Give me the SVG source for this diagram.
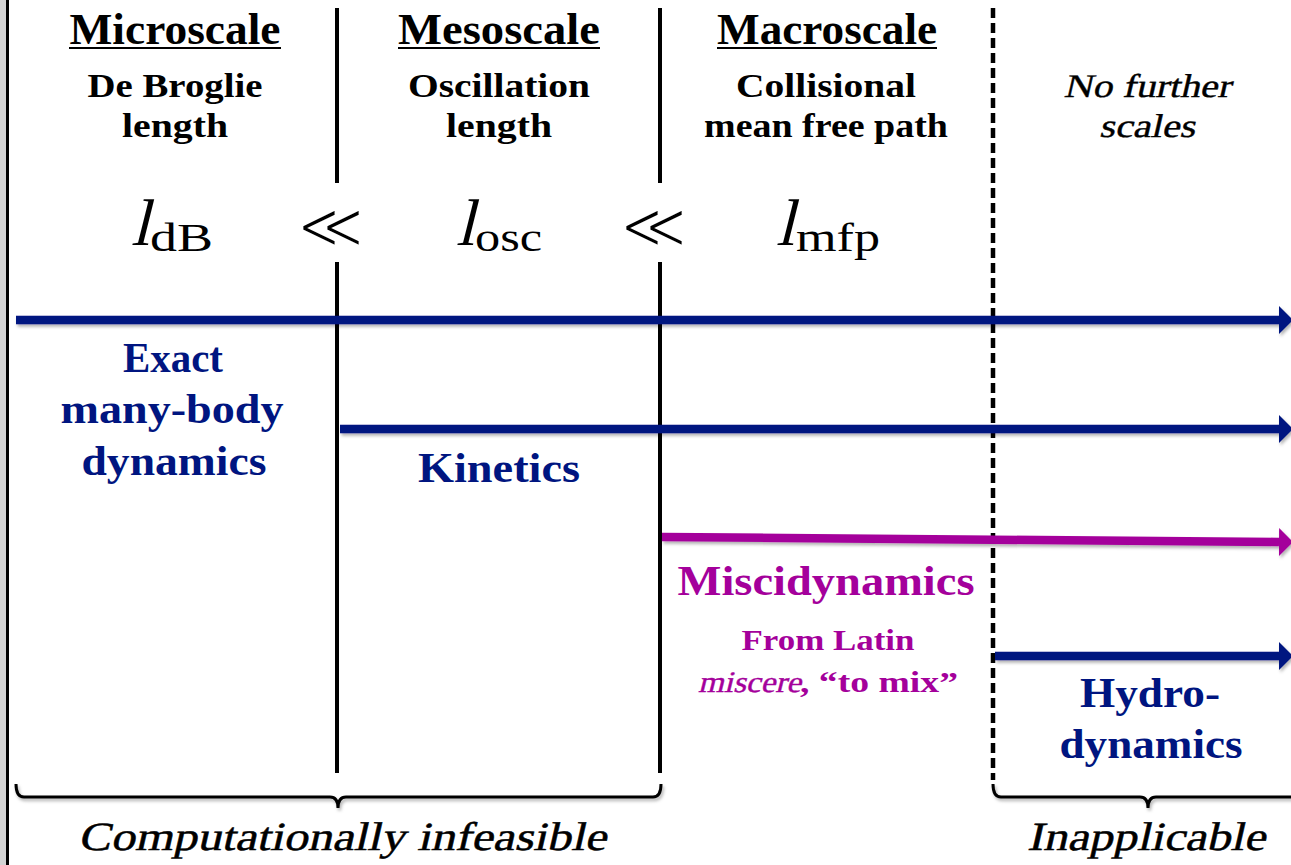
<svg xmlns="http://www.w3.org/2000/svg" width="1291" height="865" viewBox="0 0 1291 865">
<style>
.hdr{font-family:"Liberation Serif",serif;font-weight:bold;font-size:44px;fill:#000;text-anchor:middle}
.sub{font-family:"Liberation Serif",serif;font-weight:bold;font-size:33px;fill:#000;text-anchor:middle}
.ital{font-family:"Liberation Serif",serif;font-size:33px;fill:#000;text-anchor:middle;stroke:#000;stroke-width:0.4}
.lbl{font-family:"Liberation Serif",serif;font-weight:bold;font-size:42px;text-anchor:middle}
.blue{fill:#001580}
.purp{fill:#a4009b}
.small{font-size:29px}
.bot{font-family:"Liberation Serif",serif;font-size:40px;fill:#000;text-anchor:middle;stroke:#000;stroke-width:0.5}
.ml{font-family:"Liberation Serif",serif;font-size:66px;fill:#000}
.ms{font-family:"Liberation Serif",serif;font-size:40px;fill:#000}
.ll{font-family:"DejaVu Sans",sans-serif;font-size:64px;fill:#000;stroke:#fff;stroke-width:2.4;text-anchor:middle}
.vl{stroke:#000;stroke-width:4;fill:none}
.dl{stroke:#000;stroke-width:4.5;fill:none;stroke-dasharray:10,5}
.ul{stroke:#000;stroke-width:2.2}
.arr{stroke-width:8.5;fill:none}
.brace{stroke:#000;stroke-width:3;fill:none}
</style>
<defs>
<filter id="sh" filterUnits="userSpaceOnUse" x="0" y="0" width="1291" height="865">
<feDropShadow dx="1.5" dy="2.5" stdDeviation="1.5" flood-color="#000" flood-opacity="0.3"/>
</filter>
<marker id="hb" markerUnits="userSpaceOnUse" markerWidth="14" markerHeight="28" refX="0" refY="14" orient="auto" viewBox="0 0 14 28"><path d="M0,0 L14,14 L0,28 z" fill="#001580"/></marker>
<marker id="hp" markerUnits="userSpaceOnUse" markerWidth="14" markerHeight="28" refX="0" refY="14" orient="auto" viewBox="0 0 14 28"><path d="M0,0 L14,14 L0,28 z" fill="#a4009b"/></marker>
</defs>
<rect x="0" y="0" width="1291" height="865" fill="#fff"/>
<rect x="0" y="0" width="6" height="865" fill="#d3d3d3"/>
<line x1="7.5" y1="0" x2="7.5" y2="865" stroke="#000" stroke-width="3"/>

<g id="dividers">
<path class="vl" d="M337,8 V183 M337,262 V773"/>
<path class="vl" d="M660,8 V183 M660,262 V773"/>
<path class="dl" d="M993,8 V780"/>
</g>

<g id="microscale">
<text class="hdr" x="175" y="44" textLength="211" lengthAdjust="spacingAndGlyphs">Microscale</text>
<line class="ul" x1="69" y1="48" x2="281" y2="48"/>
<text class="sub" x="175" y="97" textLength="175" lengthAdjust="spacingAndGlyphs">De Broglie</text>
<text class="sub" x="175" y="137" textLength="106" lengthAdjust="spacingAndGlyphs">length</text>
<text class="ml" transform="translate(131,245) skewX(-14)">l</text>
<text class="ms" x="150" y="251" textLength="63" lengthAdjust="spacingAndGlyphs">dB</text>
</g>

<g id="mesoscale">
<text class="hdr" x="499" y="44" textLength="202" lengthAdjust="spacingAndGlyphs">Mesoscale</text>
<line class="ul" x1="398" y1="48" x2="600" y2="48"/>
<text class="sub" x="499" y="97" textLength="182" lengthAdjust="spacingAndGlyphs">Oscillation</text>
<text class="sub" x="499" y="137" textLength="106" lengthAdjust="spacingAndGlyphs">length</text>
<text class="ml" transform="translate(456,245) skewX(-14)">l</text>
<text class="ms" x="475" y="251" textLength="67" lengthAdjust="spacingAndGlyphs">osc</text>
</g>

<g id="macroscale">
<text class="hdr" x="827" y="44" textLength="220" lengthAdjust="spacingAndGlyphs">Macroscale</text>
<line class="ul" x1="717" y1="48" x2="937" y2="48"/>
<text class="sub" x="826" y="97" textLength="180" lengthAdjust="spacingAndGlyphs">Collisional</text>
<text class="sub" x="826" y="137" textLength="244" lengthAdjust="spacingAndGlyphs">mean free path</text>
<text class="ml" transform="translate(776,245) skewX(-14)">l</text>
<text class="ms" x="796" y="251" textLength="84" lengthAdjust="spacingAndGlyphs">mfp</text>
</g>

<g id="nofurther">
<text class="ital" transform="translate(1147,97) skewX(-13)" textLength="167" lengthAdjust="spacingAndGlyphs">No further</text>
<text class="ital" transform="translate(1147,137) skewX(-13)" textLength="96" lengthAdjust="spacingAndGlyphs">scales</text>
</g>

<g id="relations">
<text class="ll" x="331" y="248">≪</text>
<text class="ll" x="654" y="248">≪</text>
</g>

<g id="connectors" filter="url(#sh)">
<line class="arr" x1="16" y1="320" x2="1279" y2="320" stroke="#001580" marker-end="url(#hb)"/>
<line class="arr" x1="340" y1="429" x2="1279" y2="429" stroke="#001580" marker-end="url(#hb)"/>
<line class="arr" x1="662" y1="537" x2="1279" y2="542" stroke="#a4009b" marker-end="url(#hp)"/>
<line class="arr" x1="995" y1="656" x2="1279" y2="656" stroke="#001580" marker-end="url(#hb)"/>
</g>

<g id="exact">
<text class="lbl blue" x="173" y="372" textLength="100" lengthAdjust="spacingAndGlyphs">Exact</text>
<text class="lbl blue" x="172" y="423" textLength="223" lengthAdjust="spacingAndGlyphs">many-body</text>
<text class="lbl blue" x="174" y="475" textLength="185" lengthAdjust="spacingAndGlyphs">dynamics</text>
</g>

<g id="kinetics">
<text class="lbl blue" x="499" y="482" textLength="162" lengthAdjust="spacingAndGlyphs">Kinetics</text>
</g>

<g id="miscidynamics">
<text class="lbl purp" x="826" y="595" textLength="297" lengthAdjust="spacingAndGlyphs">Miscidynamics</text>
<text class="lbl purp small" x="828" y="650" textLength="173" lengthAdjust="spacingAndGlyphs">From Latin</text>
<text class="purp" style="font-family:'Liberation Serif',serif;font-size:30px;text-anchor:start;stroke:#a4009b;stroke-width:0.4" transform="translate(698,692) skewX(-14)" textLength="103" lengthAdjust="spacingAndGlyphs">miscere</text>
<text class="lbl purp small" style="text-anchor:start" x="800" y="692" textLength="158" lengthAdjust="spacingAndGlyphs">, “to mix”</text>
</g>

<g id="hydrodynamics">
<text class="lbl blue" x="1150" y="707" textLength="140" lengthAdjust="spacingAndGlyphs">Hydro-</text>
<text class="lbl blue" x="1151" y="758" textLength="183" lengthAdjust="spacingAndGlyphs">dynamics</text>
</g>

<g id="braces">
<g filter="url(#sh)">
<path class="brace" d="M16,784 Q16,797 24,797 L330,797 Q338,797 338,808 Q338,797 346,797 L653,797 Q661,797 661,784"/>
<path class="brace" d="M993,784 Q993,797 1001,797 L1140,797 Q1148,797 1148,808 Q1148,797 1156,797 L1295,797"/>
</g>
<text class="bot" transform="translate(342,850) skewX(-13)" textLength="528" lengthAdjust="spacingAndGlyphs">Computationally infeasible</text>
<text class="bot" transform="translate(1146,850) skewX(-13)" textLength="238" lengthAdjust="spacingAndGlyphs">Inapplicable</text>
</g>
</svg>
